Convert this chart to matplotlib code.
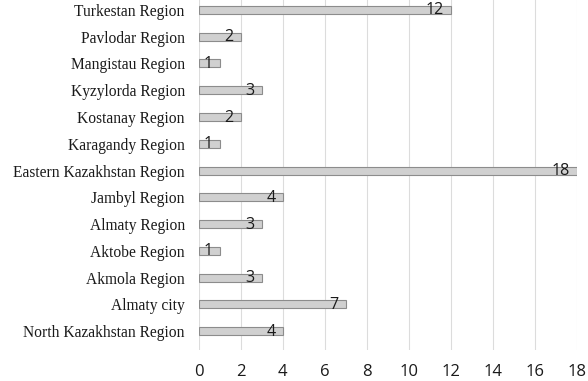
import numpy as np
import matplotlib
matplotlib.use("Agg")
import matplotlib.pyplot as plt

# data, bottom to top
regions = ["North Kazakhstan Region", "Almaty city", "Akmola Region", "Aktobe Region",
           "Almaty Region", "Jambyl Region", "Eastern Kazakhstan Region", "Karagandy Region",
           "Kostanay Region", "Kyzylorda Region", "Mangistau Region", "Pavlodar Region",
           "Turkestan Region"]
counts = [4, 7, 3, 1, 3, 4, 18, 1, 2, 3, 1, 2, 12]
xticks = np.arange(0, 19, 2)

fig = plt.figure(figsize=(5.88, 3.81), dpi=100)
ax = fig.add_axes([0.338, 0.081, 0.643, 0.919])

ind = np.arange(len(regions))
ax.barh(ind, counts, height=0.3, color="#d0d0d0", edgecolor="#8c8c8c", linewidth=0.8, zorder=3)

for i, v in zip(ind, counts):
    ax.text(v - 0.35, i - 0.02, str(v), ha="right", va="center", fontsize=11.5,
            family="Open Sans", weight="medium", color="#1a1a1a", zorder=4)

ax.set_xlim(0, 18)
ax.set_ylim(-0.71, 12.37)
ax.set_xticks(xticks)
ax.set_xticklabels([str(t) for t in xticks], family="Open Sans", fontsize=12,
                   weight="medium", color="#1a1a1a")
ax.set_yticks(ind)
ax.set_yticklabels(regions, family="Liberation Serif", fontsize=11.2, color="#1a1a1a")
ax.tick_params(length=0)
ax.tick_params(axis="x", pad=10)
ax.tick_params(axis="y", pad=10)
ax.grid(axis="x", color="#dcdcdc", linewidth=0.8, zorder=0)
for s in ax.spines.values():
    s.set_visible(False)

plt.savefig("out.png", dpi=100)
